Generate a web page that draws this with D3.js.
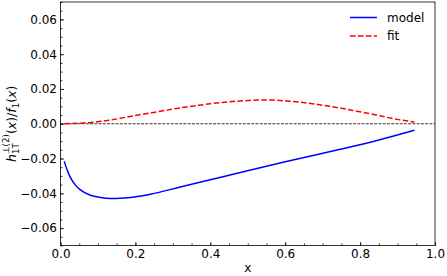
<!DOCTYPE html>
<html>
<head>
<meta charset="utf-8">
<script src="https://cdn.jsdelivr.net/npm/d3@7"></script>
<style>
  body { margin: 0; background: #fff; }
  text { font-family: "DejaVu Sans", sans-serif; }
</style>
</head>
<body>
<script>
// model curve
var xModel = [0.010, 0.018, 0.027, 0.040, 0.053, 0.080, 0.107, 0.133, 0.160, 0.187, 0.240, 0.320, 0.400, 0.480, 0.600, 0.747, 0.850, 0.945]
var yModel = [-0.0216, -0.0267, -0.0311, -0.0353, -0.0380, -0.0411, -0.0424, -0.0430, -0.0429, -0.0424, -0.0405, -0.0364, -0.0322, -0.0280, -0.0219, -0.0147, -0.0093, -0.0037]
// fit curve
var xFit = [0.010, 0.050, 0.089, 0.130, 0.178, 0.220, 0.267, 0.310, 0.356, 0.400, 0.444, 0.490, 0.533, 0.570, 0.613, 0.660, 0.702, 0.750, 0.791, 0.840, 0.880, 0.945]
var yFit = [0.0000, 0.0003, 0.0009, 0.0020, 0.0039, 0.0055, 0.0072, 0.0088, 0.0102, 0.0115, 0.0125, 0.0132, 0.0137, 0.0136, 0.0129, 0.0119, 0.0106, 0.0089, 0.0072, 0.0052, 0.0033, 0.0010]
var xTicks = [0, 0.2, 0.4, 0.6, 0.8, 1.0]
var yTicks = [-0.06, -0.04, -0.02, 0, 0.02, 0.04, 0.06]
var legendLabels = ['model', 'fit']

var W = 447, H = 276
var margin = { top: 2, right: 12, bottom: 30.5, left: 60.5 }
var w = W - margin.left - margin.right
var h = H - margin.top - margin.bottom

var svg = d3.select('body').append('svg')
    .attr('width', W)
    .attr('height', H)
var g = svg.append('g')
    .attr('transform', 'translate(' + margin.left + ',' + margin.top + ')')

var xScale = d3.scaleLinear().domain([0, 1]).range([0, w])
var yScale = d3.scaleLinear().domain([-0.07, 0.07]).range([h, 0])

// zero line
g.append('line')
    .attr('x1', 0).attr('x2', w)
    .attr('y1', yScale(0)).attr('y2', yScale(0))
    .attr('stroke', '#000')
    .attr('stroke-width', 0.8)
    .attr('stroke-dasharray', '2.96,1.28')

var line = d3.line()
    .x(function (d) { return xScale(d[0]) })
    .y(function (d) { return yScale(d[1]) })
    .curve(d3.curveMonotoneX)

g.append('path')
    .datum(d3.zip(xModel, yModel))
    .attr('d', line)
    .attr('fill', 'none')
    .attr('stroke', 'blue')
    .attr('stroke-width', 1.5)

g.append('path')
    .datum(d3.zip(xFit, yFit))
    .attr('d', line)
    .attr('fill', 'none')
    .attr('stroke', 'red')
    .attr('stroke-width', 1.5)
    .attr('stroke-dasharray', '5.55,2.4')

// minor ticks
g.append('g')
    .attr('transform', 'translate(0,' + h + ')')
    .call(d3.axisBottom(xScale).tickValues(d3.range(0, 1.0001, 0.05)).tickSize(-2).tickFormat(''))
g.append('g')
    .call(d3.axisLeft(yScale).tickValues(d3.range(-0.07, 0.0701, 0.005)).tickSize(-2).tickFormat(''))

// major ticks
var xAxis = g.append('g')
    .attr('transform', 'translate(0,' + h + ')')
    .call(d3.axisBottom(xScale).tickValues(xTicks).tickSize(-3.5).tickPadding(3.5).tickFormat(d3.format('.1f')))
var yAxis = g.append('g')
    .call(d3.axisLeft(yScale).tickValues(yTicks).tickSize(-3.5).tickPadding(3.5).tickFormat(d3.format('.2f')))

g.selectAll('.tick line').attr('stroke', '#000').attr('stroke-width', 0.8)
g.selectAll('.domain').attr('stroke', 'none')
g.selectAll('.tick text')
    .attr('fill', '#000')
    .style('font-size', '12px')
    .style('font-family', '"DejaVu Sans", sans-serif')

// frame
g.append('rect')
    .attr('width', w).attr('height', h)
    .attr('fill', 'none')
    .attr('stroke', '#000')
    .attr('stroke-width', 0.8)

// x label
svg.append('text')
    .attr('x', margin.left + w / 2)
    .attr('y', 272)
    .attr('text-anchor', 'middle')
    .style('font-size', '12px')
    .text('x')

// y label
var yl = svg.append('text')
    .attr('transform', 'translate(16,' + (margin.top + h / 2) + ') rotate(-90)')
    .attr('text-anchor', 'middle')
    .style('font-size', '12.5px')
yl.append('tspan').style('font-style', 'italic').text('h')
yl.append('tspan').style('font-size', '8.7px').attr('dy', 3).text('1T')
yl.append('tspan').style('font-size', '8.7px').attr('dx', -10.8).attr('dy', -9.8).text('⊥(2)')
yl.append('tspan').attr('dy', 6.8).text('(')
yl.append('tspan').style('font-style', 'italic').text('x')
yl.append('tspan').text(')/')
yl.append('tspan').style('font-style', 'italic').text('f')
yl.append('tspan').style('font-size', '8.7px').attr('dy', 3).text('1')
yl.append('tspan').attr('dy', -3).text('(')
yl.append('tspan').style('font-style', 'italic').text('x')
yl.append('tspan').text(')')

// legend
var legend = svg.append('g')
var legendStyles = [{ color: 'blue', dash: null }, { color: 'red', dash: '5.55,2.4' }]
legendLabels.forEach(function (lab, i) {
  var y = 17.5 + i * 18.5
  legend.append('line')
      .attr('x1', 350).attr('x2', 377)
      .attr('y1', y).attr('y2', y)
      .attr('stroke', legendStyles[i].color)
      .attr('stroke-width', 1.5)
      .attr('stroke-dasharray', legendStyles[i].dash)
  legend.append('text')
      .attr('x', 387)
      .attr('y', y + 4.3)
      .style('font-size', '12px')
      .text(lab)
})
</script>
</body>
</html>
